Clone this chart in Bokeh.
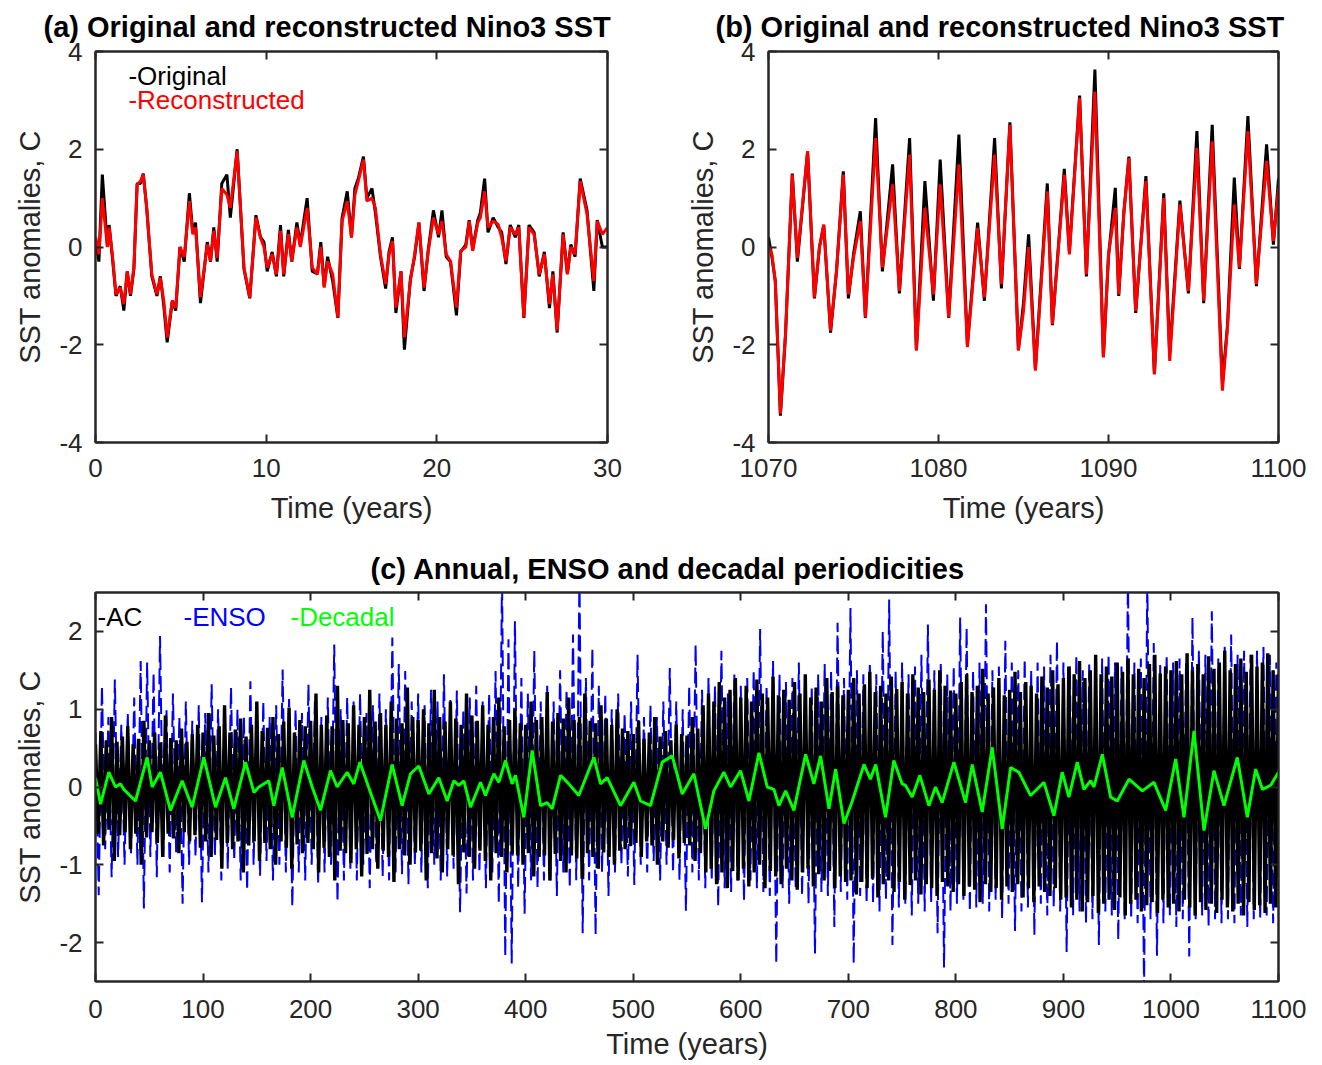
import numpy as np
from bokeh.plotting import figure
from bokeh.models import Range1d, LinearAxis, FixedTicker, Label, CustomLabelingPolicy
from bokeh.layouts import column, row
from bokeh.embed import file_html
from bokeh.resources import INLINE

FONT = "Liberation Sans"
AXC = "#262626"

# ---------------- Panel (a): years 0-30 ----------------
a_t = [0.0, 0.2, 0.4, 0.7, 0.8, 1.0, 1.2, 1.45, 1.66, 1.86,
       2.05, 2.25, 2.44, 2.64, 2.8, 3.0, 3.3, 3.6, 3.8, 4.0,
       4.2, 4.5, 4.7, 4.95, 5.2, 5.5, 5.7, 5.86, 6.15, 6.55,
       6.74, 6.93, 7.13, 7.4, 7.7, 7.9, 8.3, 8.7, 9.04, 9.4,
       9.67, 9.87, 10.06, 10.35, 10.6, 10.84, 11.03, 11.3, 11.5, 11.8,
       12.0, 12.4, 12.7, 13.0, 13.2, 13.4, 13.6, 13.9, 14.2, 14.45,
       14.75, 15.0, 15.2, 15.4, 15.7, 15.9, 16.2, 16.4, 16.7, 17.0,
       17.2, 17.4, 17.6, 17.9, 18.1, 18.45, 18.7, 18.95, 19.25, 19.5,
       19.8, 20.1, 20.3, 20.55, 20.8, 21.15, 21.4, 21.7, 21.9, 22.1,
       22.4, 22.55, 22.8, 23.0, 23.3, 23.6, 23.8, 24.05, 24.3, 24.6,
       24.8, 25.1, 25.4, 25.7, 26.0, 26.3, 26.6, 26.8, 27.05, 27.4,
       27.65, 27.85, 28.1, 28.4, 28.8, 29.2, 29.4, 29.7, 30.0]
a_rec = [0.2, -0.15, 1.0, 0.0, 0.4, -0.2, -0.97, -0.83, -1.17, -0.5,
         -0.97, -0.42, 1.28, 1.35, 1.48, 0.8, -0.56, -0.97, -0.63, -1.1,
         -1.85, -1.1, -1.24, 0.0, -0.2, 0.94, 0.26, 0.4, -1.03, 0.05,
         -0.29, 0.33, -0.22, 1.2, 1.07, 0.8, 1.96, -0.42, -1.03, 0.6,
         0.19, 0.0, -0.42, -0.15, -0.56, 0.33, -0.56, 0.26, -0.29, 0.4,
         0.0, 0.8, -0.42, -0.56, 0.0, -0.83, -0.29, -0.56, -1.44, 0.53,
         0.94, 0.19, 1.07, 1.35, 1.79, 0.94, 1.0, 0.8, -0.15, -0.76,
         -0.15, 0.12, -1.24, -0.5, -1.85, -0.7, -0.15, 0.5, -0.83, -0.08,
         0.6, 0.26, 0.53, -0.15, -0.29, -1.24, -0.08, 0.0, 0.53, -0.08,
         0.5, 0.6, 1.14, 0.4, 0.53, 0.46, 0.19, -0.29, 0.4, 0.26,
         0.4, -1.44, 0.4, 0.26, -0.56, -0.15, -1.17, -0.56, -1.71, 0.26,
         -0.56, 0.0, -0.15, 1.35, 0.67, -0.7, 0.53, 0.26, 0.4]
a_orig = [0.2, -0.3, 1.48, 0.0, 0.45, -0.25, -1.0, -0.8, -1.3, -0.5,
          -1.0, -0.45, 1.3, 1.3, 1.5, 0.8, -0.6, -1.0, -0.6, -1.2,
          -1.95, -1.1, -1.3, 0.0, -0.3, 1.1, 0.3, 0.5, -1.15, 0.1,
          -0.3, 0.4, -0.3, 1.3, 1.48, 0.6, 2.0, -0.45, -1.05, 0.65,
          0.2, 0.1, -0.5, -0.1, -0.6, 0.45, -0.6, 0.35, -0.3, 0.5,
          0.05, 1.0, -0.5, -0.55, 0.1, -0.8, -0.2, -0.7, -1.45, 0.6,
          1.14, 0.2, 1.2, 1.4, 1.85, 1.0, 1.2, 0.7, -0.2, -0.85,
          -0.1, 0.2, -1.35, -0.5, -2.1, -0.65, -0.2, 0.5, -0.9, -0.05,
          0.75, 0.2, 0.75, -0.2, -0.3, -1.4, -0.1, 0.05, 0.55, -0.05,
          0.55, 0.7, 1.4, 0.3, 0.6, 0.4, 0.3, -0.35, 0.45, 0.2,
          0.45, -1.45, 0.45, 0.3, -0.6, -0.1, -1.25, -0.5, -1.75, 0.3,
          -0.55, 0.05, -0.2, 1.4, 0.75, -0.9, 0.55, 0.0, 0.0]

# ---------------- Panel (b): years 1070-1100 ----------------
b_t = [1070.0, 1070.2, 1070.4, 1070.7, 1071.0, 1071.4, 1071.7, 1072.3, 1072.7, 1073.0,
       1073.25, 1073.65, 1074.0, 1074.4, 1074.7, 1075.0, 1075.4, 1075.7, 1076.3, 1076.7,
       1077.3, 1077.7, 1078.3, 1078.7, 1079.2, 1079.7, 1080.1, 1080.6, 1081.2, 1081.7,
       1082.3, 1082.7, 1083.3, 1083.7, 1084.2, 1084.7, 1085.0, 1085.3, 1085.7, 1086.4,
       1086.7, 1087.4, 1087.7, 1088.3, 1088.7, 1089.2, 1089.7, 1090.0, 1090.4, 1090.6,
       1090.9, 1091.2, 1091.6, 1092.2, 1092.7, 1093.25, 1093.6, 1094.2, 1094.7, 1095.2,
       1095.6, 1096.1, 1096.7, 1097.0, 1097.4, 1097.7, 1098.2, 1098.7, 1099.3, 1099.7,
       1100.0]
b_rec = [0.02, -0.15, -0.7, -3.41, -1.78, 1.48, -0.22, 1.96, -1.03, 0.0,
         0.46, -1.71, -0.49, 1.48, -0.97, -0.22, 0.53, -1.44, 2.23, -0.42,
         1.28, -0.9, 1.89, -2.12, 0.8, -0.97, 1.28, -1.44, 1.69, -2.05,
         0.39, -1.03, 1.89, -0.76, 2.5, -2.12, -1.31, 0.0, -2.53, 1.14,
         -1.58, 1.48, -0.15, 3.05, -0.56, 3.18, -2.26, -0.15, 0.8, -0.97,
         0.67, 1.82, -1.31, 1.35, -2.6, 1.0, -2.33, 0.87, -0.9, 2.03,
         -1.1, 2.16, -2.94, -1.65, 0.87, -0.42, 2.37, -0.76, 1.76, 0.12,
         1.21]
b_orig = [0.2, -0.2, -0.7, -3.45, -1.8, 1.5, -0.3, 1.95, -1.05, 0.0,
          0.45, -1.75, -0.5, 1.55, -1.05, -0.15, 0.73, -1.45, 2.64, -0.5,
          1.69, -0.95, 2.23, -2.1, 1.35, -1.1, 1.79, -1.45, 2.3, -2.0,
          0.5, -1.1, 2.23, -0.85, 2.55, -2.1, -1.15, 0.26, -2.5, 1.3,
          -1.6, 1.6, -0.1, 3.1, -0.6, 3.63, -2.25, -0.2, 1.21, -1.0,
          0.7, 1.85, -1.35, 1.45, -2.6, 1.1, -2.2, 0.95, -0.95, 2.37,
          -1.15, 2.5, -2.8, -1.6, 1.42, -0.45, 2.68, -0.8, 2.1, 0.05,
          1.4]

# ---------------- Panel (c): 0-1100 years ----------------
# Annual cycle: successive upper peaks (every 5 yr from 0) and lower troughs (every 5 yr from 2.5)
ac_hi = [0.55, 0.72, 0.6, 0.9, 0.58, 0.65, 0.78, 0.55, 0.62, 0.85, 0.6, 0.7, 0.57, 0.92, 0.63, 0.6, 0.75, 0.58, 0.68, 0.8,
         0.7, 0.95, 0.66, 0.78, 1.05, 0.7, 0.74, 0.88, 0.65, 0.8, 1.1, 0.72, 0.76, 0.9, 0.68, 0.84, 1.02, 0.7, 0.86, 0.78,
         0.85, 1.2, 0.8, 0.92, 0.78, 1.3, 0.86, 0.82, 1.05, 0.8, 0.9, 1.25, 0.84, 0.95, 0.8, 1.1, 0.88, 0.82, 1.28, 0.9,
         0.86, 1.0, 0.82, 1.25, 0.9, 0.84, 1.1, 0.88, 0.8, 1.2, 0.92, 0.85, 1.05, 0.8, 0.9, 1.15, 0.78, 0.86, 1.0, 0.82,
         0.8, 1.1, 0.86, 0.9, 1.22, 0.84, 0.95, 0.88, 1.15, 0.86, 0.9, 1.2, 0.85, 0.82, 1.05, 0.88, 0.8, 1.0, 0.75, 0.72,
         0.68, 0.85, 0.62, 0.7, 0.9, 0.65, 0.72, 0.6, 0.8, 0.68, 0.66, 0.9, 0.75, 1.05, 1.2, 1.1, 1.35, 1.15, 1.25, 1.4,
         1.15, 1.3, 1.1, 1.38, 1.2, 1.15, 1.42, 1.18, 1.25, 1.12, 1.35, 1.2, 1.45, 1.15, 1.28, 1.1, 1.4, 1.22, 1.3, 1.18,
         1.25, 1.4, 1.2, 1.32, 1.48, 1.22, 1.3, 1.2, 1.42, 1.26, 1.35, 1.2, 1.45, 1.28, 1.22, 1.38, 1.25, 1.5, 1.3, 1.24,
         1.2, 1.35, 1.45, 1.22, 1.3, 1.52, 1.2, 1.28, 1.4, 1.18, 1.25, 1.48, 1.22, 1.35, 1.3, 1.2, 1.42, 1.28, 1.5, 1.32,
         1.4, 1.55, 1.45, 1.62, 1.4, 1.5, 1.7, 1.45, 1.55, 1.42, 1.6, 1.48, 1.65, 1.45, 1.52, 1.4, 1.58, 1.7, 1.46, 1.55,
         1.5, 1.62, 1.45, 1.72, 1.5, 1.58, 1.45, 1.68, 1.52, 1.6, 1.75, 1.5, 1.58, 1.65, 1.48, 1.7, 1.55, 1.6, 1.72, 1.5,
         1.45]
ac_lo = [-0.6, -0.75, -0.55, -0.95, -0.62, -0.58, -0.8, -0.6, -1.0, -0.65, -0.58, -0.72, -0.9, -0.6, -0.66, -0.85, -0.58, -0.7, -0.62, -0.78,
         -0.7, -0.9, -0.68, -1.05, -0.72, -0.8, -0.7, -1.1, -0.75, -0.7, -0.95, -0.72, -0.8, -1.0, -0.7, -0.78, -1.05, -0.74, -0.85, -0.72,
         -0.8, -1.1, -0.78, -0.9, -1.2, -0.82, -0.85, -0.98, -0.8, -1.15, -0.86, -0.8, -1.05, -0.82, -0.9, -1.22, -0.8, -0.88, -1.0, -0.84,
         -0.82, -1.2, -0.85, -0.92, -1.1, -0.8, -0.88, -1.25, -0.84, -0.9, -1.05, -0.82, -0.95, -1.2, -0.85, -0.9, -1.1, -0.86, -0.88, -1.0,
         -0.85, -1.15, -0.9, -0.88, -1.2, -0.86, -0.95, -1.1, -0.88, -0.92, -1.18, -0.85, -0.9, -1.05, -0.84, -0.9, -1.0, -0.82, -0.8, -0.76,
         -0.72, -0.9, -0.7, -0.75, -1.0, -0.7, -0.78, -0.68, -0.92, -0.72, -0.75, -0.95, -0.85, -1.1, -1.05, -1.25, -1.1, -1.3, -1.08, -1.2,
         -1.05, -1.28, -1.1, -1.0, -1.3, -1.08, -1.15, -1.25, -1.05, -1.2, -1.32, -1.1, -1.05, -1.28, -1.12, -1.2, -1.08, -1.3, -1.15, -1.22,
         -1.2, -1.38, -1.22, -1.3, -1.18, -1.42, -1.25, -1.2, -1.35, -1.22, -1.45, -1.26, -1.2, -1.38, -1.25, -1.3, -1.4, -1.22, -1.28, -1.35,
         -1.25, -1.4, -1.28, -1.32, -1.48, -1.25, -1.35, -1.3, -1.45, -1.28, -1.35, -1.25, -1.42, -1.3, -1.48, -1.28, -1.35, -1.4, -1.3, -1.45,
         -1.42, -1.55, -1.45, -1.6, -1.48, -1.4, -1.62, -1.5, -1.45, -1.58, -1.42, -1.65, -1.5, -1.45, -1.6, -1.52, -1.48, -1.62, -1.45, -1.55,
         -1.5, -1.6, -1.45, -1.55, -1.65, -1.48, -1.58, -1.5, -1.62, -1.45, -1.55, -1.6, -1.5, -1.65, -1.48, -1.58, -1.52, -1.62, -1.5, -1.55]

# ENSO: alternating warm / cold extremes every 3 years from year 0
enso = [0.7, -1.39, 1.3, -0.8, 0.9, -1.16, 1.38, -0.9, 0.8, -1.0, 0.95, -0.85, 1.15, -1.0, 1.62, -1.56, 1.6, -0.9, 1.47, -1.16,
        1.94, -0.9, 1.0, -1.1, 1.2, -0.85, 0.9, -1.5, 1.1, -1.0, 0.85, -0.9, 1.05, -1.48, 0.95, -1.1, 1.32, -0.9, 1.0, -1.2,
        0.9, -1.05, 1.28, -0.95, 1.0, -1.2, 0.9, -1.33, 1.36, -1.0, 0.95, -1.14, 1.1, -0.95, 0.9, -1.2, 1.05, -1.0, 1.51, -1.1,
        1.13, -1.54, 1.0, -1.1, 0.95, -1.2, 1.32, -1.0, 1.1, -1.25, 0.9, -1.1, 1.15, -1.0, 1.83, -1.48, 1.0, -1.2, 1.15, -1.05,
        1.1, -1.2, 1.2, -1.0, 0.95, -1.3, 1.05, -0.99, 1.2, -1.15, 1.0, -1.2, 1.92, -1.1, 1.58, -1.12, 1.49, -1.25, 1.1, -1.0,
        1.2, -1.1, 1.05, -1.3, 1.25, -1.0, 1.1, -1.2, 1.45, -1.15, 1.13, -1.05, 1.24, -1.61, 1.0, -1.37, 1.15, -1.2, 1.3, -1.1,
        1.1, -1.3, 1.2, -1.1, 1.49, -1.5, 2.7, -2.18, 1.9, -2.27, 2.13, -1.3, 1.4, -1.63, 1.2, -1.2, 1.75, -1.3, 1.1, -1.2,
        1.3, -1.2, 1.1, -1.4, 1.5, -1.1, 1.25, -1.3, 1.96, -1.2, 2.7, -1.88, 1.4, -1.2, 1.79, -1.9, 1.3, -1.1, 1.2, -1.4,
        1.0, -1.1, 1.2, -1.0, 0.95, -1.15, 1.1, -1.26, 1.7, -1.0, 0.9, -1.1, 1.05, -0.95, 0.9, -1.2, 1.1, -1.0, 1.53, -1.1,
        1.1, -1.2, 1.0, -1.59, 1.3, -1.1, 1.83, -1.2, 1.25, -1.3, 1.4, -1.2, 1.3, -1.54, 1.75, -1.3, 1.2, -1.35, 1.45, -1.2,
        1.3, -1.46, 1.4, -1.2, 1.5, -1.3, 2.03, -1.35, 1.3, -1.4, 1.62, -2.27, 1.45, -1.3, 1.35, -1.5, 1.4, -1.3, 1.6, -1.4,
        1.4, -1.5, 1.3, -2.14, 1.45, -1.35, 1.58, -1.4, 1.5, -1.8, 2.11, -1.35, 1.4, -1.45, 2.3, -2.27, 1.5, -1.4, 1.45, -1.5,
        1.6, -1.5, 1.45, -1.6, 2.0, -1.45, 2.41, -2.03, 1.5, -1.55, 1.6, -1.5, 1.45, -1.65, 1.55, -1.5, 1.7, -1.6, 2.09, -1.5,
        1.5, -1.88, 1.6, -2.32, 1.45, -1.6, 1.55, -1.5, 2.18, -1.45, 2.05, -1.6, 1.5, -1.55, 1.6, -1.5, 2.35, -1.6, 1.5, -1.45,
        1.55, -1.7, 1.88, -1.5, 1.6, -1.85, 1.5, -1.6, 1.65, -1.55, 1.5, -1.9, 1.6, -1.5, 1.55, -1.65, 1.7, -1.55, 1.88, -1.6,
        1.6, -2.12, 1.55, -1.65, 1.7, -1.6, 1.5, -1.75, 1.6, -1.7, 1.55, -2.03, 1.65, -1.6, 1.7, -1.65, 1.6, -1.97, 1.55, -1.7,
        2.7, -1.7, 1.6, -1.75, 1.65, -2.6, 2.7, -1.7, 1.85, -2.17, 1.6, -1.75, 1.7, -1.65, 1.6, -1.8, 1.65, -1.7, 1.6, -2.18,
        2.18, -1.7, 1.75, -1.65, 1.7, -1.8, 2.26, -1.7, 1.65, -1.75, 1.83, -1.7, 1.96, -1.75, 1.7, -1.65, 1.75, -1.8, 1.7, -1.7,
        1.75, -1.7, 1.8, -1.65, 1.7, -1.75, 1.6]

# Decadal component (turning points)
dec_t = [0, 4.7, 12.4, 18.6, 23.2, 26.3, 37.2, 48, 52.7, 60.4,
         69.7, 80.6, 89.9, 100.7, 111.6, 120.9, 128.6, 139.5, 147.3, 151.9,
         161.2, 165.8, 173.6, 182.9, 193.7, 201.5, 209.2, 218.5, 224.7, 234,
         240.2, 245.8, 255.7, 265, 275.8, 285.1, 292.9, 300.6, 310, 319.2,
         327, 333.2, 337.8, 342.5, 348.7, 358, 362.6, 370.4, 375, 381.2,
         387.4, 390.5, 398.3, 406, 413.8, 420, 424.6, 432.4, 440.1, 449.4,
         463.4, 469.6, 475.8, 488.2, 500.6, 506.8, 516.1, 527, 536.3, 545.6,
         556.4, 567.3, 575, 584.3, 590.5, 599.8, 607.6, 616.9, 624.6, 630.8,
         635.5, 641.7, 649.4, 660.3, 668, 674.2, 682, 688.2, 696, 703.7,
         714.6, 720.5, 725.5, 734.6, 742.3, 750.1, 753.2, 759.4, 766.5, 774.9,
         781.1, 787.3, 798.2, 809, 815.2, 824.5, 833.8, 843.1, 850.9, 858.6,
         869.5, 881.9, 891.2, 898.9, 905.1, 912.9, 919.1, 925.3, 928.4, 936.2,
         943.9, 950.1, 961, 973.4, 984.2, 995.1, 1004.4, 1012.1, 1021.4, 1030.7,
         1040, 1049.3, 1061.7, 1071, 1078.8, 1085, 1092.7, 1100]
dec_v = [0.12, -0.22, 0.19, 0.0, 0.04, -0.03, -0.18, 0.38, 0.0, 0.19,
         -0.30, 0.08, -0.26, 0.38, -0.26, 0.12, -0.28, 0.32, -0.07, 0.0,
         0.08, -0.24, 0.25, -0.39, 0.34, 0.0, -0.30, 0.21, 0.0, 0.19,
         0.04, 0.32, -0.07, -0.43, 0.29, -0.24, 0.17, 0.27, -0.09, 0.12,
         -0.18, 0.08, 0.02, 0.08, -0.26, 0.06, -0.11, 0.17, 0.06, 0.34,
         0.04, 0.15, -0.39, 0.47, -0.24, -0.2, -0.28, 0.15, 0.04, -0.11,
         0.38, 0.04, 0.12, -0.24, 0.06, -0.18, -0.24, 0.32, 0.40, -0.09,
         0.17, -0.54, -0.05, 0.19, 0.0, 0.21, -0.18, 0.44, 0.0, -0.03,
         -0.24, -0.05, -0.30, 0.42, 0.04, 0.40, -0.28, 0.23, -0.47, -0.18,
         0.29, 0.10, 0.29, -0.39, 0.34, 0.04, 0.02, -0.13, 0.15, -0.24,
         0.0, -0.2, 0.32, -0.2, 0.29, -0.32, 0.51, -0.54, 0.25, 0.19,
         -0.11, 0.06, -0.37, 0.19, -0.13, 0.32, -0.03, 0.08, 0.0, 0.42,
         -0.13, -0.18, 0.10, -0.05, 0.06, -0.30, 0.36, -0.39, 0.72, -0.56,
         0.21, -0.24, 0.38, -0.39, 0.23, -0.03, 0.02, 0.19]

# ticks
a_xticks = [0, 10, 20, 30]
b_xticks = [1070, 1080, 1090, 1100]
ab_yticks = [-4, -2, 0, 2, 4]
c_xticks = list(range(0, 1101, 100))
c_yticks = [-2, -1, 0, 1, 2]


def pair(x, y):
    n = min(len(x), len(y))
    return list(x[:n]), list(y[:n])


NO_LABELS = "for (const i of indices) { indices.unset(i) }\nreturn indices"


def style_axis(ax, ticks, labels=True):
    ax.ticker = FixedTicker(ticks=ticks)
    ax.major_tick_in = 8
    ax.major_tick_out = 0
    ax.minor_tick_line_color = None
    ax.major_tick_line_color = AXC
    ax.major_tick_line_width = 2
    ax.axis_line_color = AXC
    ax.axis_line_width = 2
    if labels:
        ax.major_label_overrides = {t: ("-%g" % abs(t) if t < 0 else "%g" % t) for t in ticks}
        ax.major_label_text_font = FONT
        ax.major_label_text_font_size = "26px"
        ax.major_label_text_color = AXC
        ax.axis_label_text_font = FONT
        ax.axis_label_text_font_size = "29px"
        ax.axis_label_text_font_style = "normal"
        ax.axis_label_text_color = AXC
    else:
        ax.major_label_policy = CustomLabelingPolicy(code=NO_LABELS)
        ax.major_label_text_font_size = "0px"
        ax.major_label_standoff = 0


def make_fig(w, h, xr, yr, xt, yt, bl, br, bt, bb, title, toff, tstand, xls, xas):
    p = figure(width=w, height=h, x_range=Range1d(*xr), y_range=Range1d(*yr),
               output_backend="svg", toolbar_location=None,
               min_border_left=bl, min_border_right=br,
               min_border_top=bt, min_border_bottom=bb)
    p.grid.visible = False
    p.outline_line_color = AXC
    p.outline_line_width = 2
    p.background_fill_color = "white"
    p.border_fill_color = "white"
    style_axis(p.xaxis[0], xt)
    style_axis(p.yaxis[0], yt)
    p.xaxis[0].axis_label = "Time (years)"
    p.yaxis[0].axis_label = "SST anomalies, C"
    p.xaxis[0].major_label_standoff = xls
    p.xaxis[0].axis_label_standoff = xas
    p.yaxis[0].major_label_standoff = 13
    p.yaxis[0].axis_label_standoff = 10
    top = LinearAxis()
    style_axis(top, xt, labels=False)
    p.add_layout(top, "above")
    right = LinearAxis()
    style_axis(right, yt, labels=False)
    p.add_layout(right, "right")
    p.title.text = title
    p.title.text_font = FONT
    p.title.text_font_size = "29px"
    p.title.text_font_style = "bold"
    p.title.text_color = "black"
    p.title.align = "left"
    p.title.offset = toff
    p.title.standoff = tstand
    return p


# ---- (a)
pa = make_fig(661, 540, (0, 30), (-4, 4), a_xticks, ab_yticks, 95, 54, 50, 98,
              "(a) Original and reconstructed Nino3 SST", -52, 17, 16, 12)
x, y = pair(a_t, a_orig)
pa.line(x, y, line_color="black", line_width=3)
x, y = pair(a_t, a_rec)
pa.line(x, y, line_color="#ff0000", line_width=3)
pa.add_layout(Label(x=1.93, y=3.49, text="-Original", text_font=FONT, text_font_size="26px",
                    text_color="black", text_baseline="middle"))
pa.add_layout(Label(x=1.93, y=3.0, text="-Reconstructed", text_font=FONT, text_font_size="26px",
                    text_color="#ff0000", text_baseline="middle"))

# ---- (b)
pb = make_fig(661, 540, (1070, 1100), (-4, 4), b_xticks, ab_yticks, 107, 44, 50, 98,
              "(b) Original and reconstructed Nino3 SST", -53, 17, 16, 12)
x, y = pair(b_t, b_orig)
pb.line(x, y, line_color="black", line_width=3)
x, y = pair(b_t, b_rec)
pb.line(x, y, line_color="#ff0000", line_width=3)

# ---- (c)
pc = make_fig(1322, 525, (0, 1100), (-2.5, 2.5), c_xticks, c_yticks, 95, 44, 52, 84,
              "(c) Annual, ENSO and decadal periodicities", 275, 15, 18, 7)
enso_t = np.arange(len(enso)) * 3.0
pc.line(list(enso_t), enso, line_color="#0000ff", line_width=2, line_dash="16 6")

n_hi, n_lo = len(ac_hi), len(ac_lo)
ac_t = np.empty(n_hi + n_lo)
ac_v = np.empty(n_hi + n_lo)
ac_t[0::2] = np.arange(n_hi) * 5.0
ac_t[1::2] = np.arange(n_lo) * 5.0 + 2.5
ac_v[0::2] = ac_hi
ac_v[1::2] = ac_lo
pc.line(list(ac_t), list(ac_v), line_color="black", line_width=3.4)

x, y = pair(dec_t, dec_v)
pc.line(x, y, line_color="#00ff00", line_width=3)

for tx, txt, col in [(1.9, "-AC", "black"), (81.8, "-ENSO", "#0000ff"), (181.3, "-Decadal", "#00ff00")]:
    pc.add_layout(Label(x=tx, y=2.19, text=txt, text_font=FONT, text_font_size="26px",
                        text_color=col, text_baseline="middle"))

layout = column(row(pa, pb), pc)
open("out.html", "w").write(file_html(layout, INLINE))
